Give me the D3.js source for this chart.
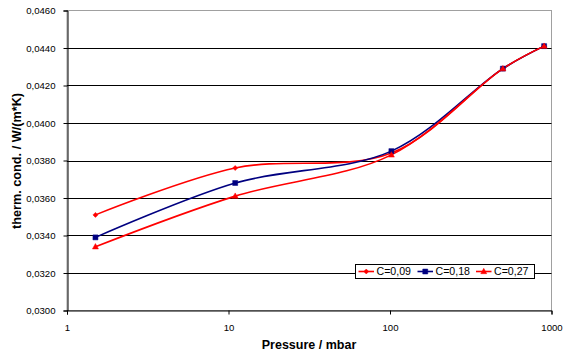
<!DOCTYPE html>
<html>
<head>
<meta charset="utf-8">
<script src="https://cdn.jsdelivr.net/npm/d3@7"></script>
<style>
  html, body { margin: 0; padding: 0; background: #fff; }
  svg { display: block; font-family: "Liberation Sans", Arial, sans-serif; }
</style>
</head>
<body>
<svg id="chart" width="563" height="353"></svg>
<script>
// Pressure in mbar (log axis)
const pressure = [1.5, 11, 102, 500, 900];
// Thermal conductivity in W/(m*K) for each series
const c009 = [0.0351, 0.0376, 0.0384, 0.0429, 0.0441];
const c018 = [0.0339, 0.0368, 0.0385, 0.0429, 0.0441];
const c027 = [0.0334, 0.0361, 0.0383, 0.0429, 0.0441];
const seriesNames = ["C=0,09", "C=0,18", "C=0,27"];
const yTicks = [0.030, 0.032, 0.034, 0.036, 0.038, 0.040, 0.042, 0.044, 0.046];
const xTicks = [1, 10, 100, 1000];

const series = [
  { name: seriesNames[0], values: c009, color: "#ff0000", marker: "diamond" },
  { name: seriesNames[1], values: c018, color: "#000080", marker: "square" },
  { name: seriesNames[2], values: c027, color: "#ff0000", marker: "triangle" }
];

const svg = d3.select("#chart");
const plotLeft = 67, plotRight = 551.5, plotTop = 10.5, plotBottom = 310.5;

const x = d3.scaleLog().domain([1, 1000]).range([plotLeft, plotRight]);
const y = d3.scaleLinear().domain([0.030, 0.046]).range([plotBottom, plotTop]);
const fmt = v => v.toFixed(4).replace(".", ",");

// Plot area border (top / right)
svg.append("rect")
  .attr("x", plotLeft).attr("y", plotTop)
  .attr("width", plotRight - plotLeft).attr("height", plotBottom - plotTop)
  .attr("fill", "#fff").attr("stroke", "#a0a0a0").attr("stroke-width", 1);

// Horizontal gridlines
svg.append("g").selectAll("line")
  .data(yTicks.filter(d => d > 0.030 && d < 0.046))
  .join("line")
  .attr("x1", plotLeft).attr("x2", plotRight)
  .attr("y1", d => Math.round(y(d)) + 0.5).attr("y2", d => Math.round(y(d)) + 0.5)
  .attr("stroke", "#000").attr("stroke-width", 1);

// Y axis
const yAxis = d3.axisLeft(y).tickValues(yTicks).tickFormat(fmt).tickSize(4).tickPadding(8);
const gy = svg.append("g").attr("transform", `translate(${plotLeft + 0.5},0)`).call(yAxis);
gy.select(".domain").attr("stroke", "#000");
gy.selectAll(".tick line").attr("stroke", "#000");
gy.selectAll("text").attr("font-size", 9.6).attr("fill", "#000").attr("font-family", "Liberation Sans, Arial, sans-serif");

// X axis
const xAxis = d3.axisBottom(x).tickValues(xTicks).tickFormat(d3.format("d")).tickSize(4).tickPadding(10);
const gx = svg.append("g").attr("transform", `translate(0,${plotBottom})`).call(xAxis);
gx.select(".domain").attr("stroke", "#000");
gx.selectAll(".tick line").attr("stroke", "#000");
gx.selectAll("text").attr("font-size", 9.6).attr("fill", "#000").attr("font-family", "Liberation Sans, Arial, sans-serif");

// Axis titles
svg.append("text")
  .attr("x", 309).attr("y", 348.5)
  .attr("text-anchor", "middle")
  .attr("font-size", 12.5).attr("font-weight", "bold")
  .text("Pressure / mbar");

svg.append("text")
  .attr("transform", "translate(20.5,161) rotate(-90)")
  .attr("text-anchor", "middle")
  .attr("font-size", 12.7).attr("font-weight", "bold")
  .text("therm. cond. / W/(m*K)");

// Smoothed series lines
const line = d3.line()
  .x((d, i) => x(pressure[i]))
  .y(d => y(d))
  .curve(d3.curveCatmullRom.alpha(0.5));

function markerPath(type, cx, cy) {
  if (type === "square") {
    return `M${cx - 2.5},${cy - 2.5}h5v5h-5z`;
  }
  if (type === "triangle") {
    return `M${cx},${cy - 3.2}L${cx + 3},${cy + 2.2}L${cx - 3},${cy + 2.2}z`;
  }
  return `M${cx},${cy - 2.5}L${cx + 2.5},${cy}L${cx},${cy + 2.5}L${cx - 2.5},${cy}z`;
}

const gs = svg.append("g");
series.forEach(s => {
  gs.append("path")
    .attr("d", line(s.values))
    .attr("fill", "none")
    .attr("stroke", s.color)
    .attr("stroke-width", 1.6);
});
series.forEach(s => {
  gs.append("g").selectAll("path")
    .data(s.values)
    .join("path")
    .attr("d", (d, i) => markerPath(s.marker, x(pressure[i]), y(d)))
    .attr("fill", s.color).attr("stroke", s.color).attr("stroke-width", 0.5);
});

// Legend
const lg = svg.append("g");
lg.append("rect")
  .attr("x", 355.5).attr("y", 264.5).attr("width", 179).attr("height", 14)
  .attr("fill", "#fff").attr("stroke", "#000").attr("stroke-width", 1);
const entryX = [358.5, 417.5, 476];
series.forEach((s, i) => {
  const ex = entryX[i], ey = 271.5;
  lg.append("line")
    .attr("x1", ex).attr("x2", ex + 15.5).attr("y1", ey).attr("y2", ey)
    .attr("stroke", s.color).attr("stroke-width", 1.6);
  lg.append("path")
    .attr("d", markerPath(s.marker, ex + 7.75, ey))
    .attr("fill", s.color).attr("stroke", s.color).attr("stroke-width", 0.5);
  lg.append("text")
    .attr("x", ex + 18).attr("y", ey + 3.8)
    .attr("font-size", 10.6).attr("fill", "#000")
    .text(s.name);
});
</script>
</body>
</html>
